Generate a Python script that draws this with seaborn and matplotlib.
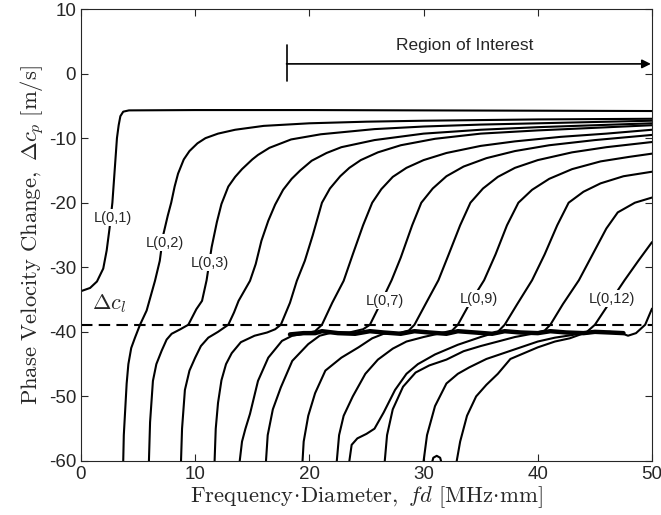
import matplotlib
matplotlib.use("Agg")
import matplotlib.pyplot as plt
import seaborn as sns
import pandas as pd

# values (x: f*d in MHz*mm, y: delta c_p in m/s)
l01_x = [0, 0.8, 1.4, 1.95, 2.25, 2.5, 2.75, 2.95, 3.15, 3.3, 3.45, 3.7, 4.2, 10, 20, 30, 40, 50]
l01_y = [-33.7, -33.2, -32.2, -30.2, -27.4, -24, -20, -15, -10, -8, -6.6, -5.9, -5.7, -5.65, -5.65, -5.7, -5.75, -5.8]

l02_x = [3.7, 3.75, 3.85, 4.0, 4.15, 4.4, 4.73, 5.17, 5.75, 6.48, 6.9, 7.2, 7.6, 7.9, 8.2, 8.5, 9.0, 9.5, 10.2, 10.9, 12.0, 13.5, 16, 20, 25, 30, 40, 50]
l02_y = [-60, -56, -52.8, -48, -45, -42.5, -40.9, -38.9, -36.7, -32.1, -29, -25, -22, -20, -17.5, -15.5, -13.3, -12, -10.8, -10, -9.3, -8.7, -8.1, -7.7, -7.45, -7.3, -7.1, -7.0]

l03_x = [5.95, 6.05, 6.3, 6.6, 7.07, 7.5, 7.94, 8.7, 9.4, 10.1, 10.6, 11.0, 11.44, 11.9, 12.3, 12.9, 13.5, 14.1, 15.0, 15.5, 16.5, 18.4, 21, 25.7, 30, 35, 40, 50]
l03_y = [-60, -54, -47.6, -45, -42.9, -41.2, -40.3, -39.6, -38.9, -36.5, -35.2, -32, -26.9, -23, -20.2, -17.5, -16, -14.8, -13.3, -12.6, -11.5, -10.2, -9.4, -8.6, -8.2, -7.9, -7.7, -7.3]

l04_x = [8.76, 8.85, 9.1, 9.5, 10.0, 10.5, 11.15, 12.0, 12.9, 13.4, 13.8, 14.8, 15.3, 15.8, 16.4, 17.0, 17.7, 18.45, 19.2, 20.2, 21.5, 22.8, 25.7, 30, 35, 40, 50]
l04_y = [-60, -55, -49, -46, -44, -42.2, -40.9, -40.0, -38.9, -37, -35.2, -32.1, -29.5, -25.9, -22.8, -20.3, -18.0, -16.3, -15.0, -13.5, -12.3, -11.4, -10.3, -9.3, -8.7, -8.3, -7.7]

l05_x = [11.7, 11.8, 12.0, 12.3, 12.7, 13.2, 14.0, 15.2, 16.3, 17.0, 17.5, 18.3, 18.9, 19.6, 20.3, 21.1, 21.8, 22.7, 23.5, 24.5, 26, 28, 31, 35, 40, 45, 50]
l05_y = [-60, -55, -51, -47.5, -45, -43.3, -41.6, -40.6, -40.1, -39.6, -38.9, -35.5, -32.1, -29, -25, -20, -17.8, -15.9, -14.6, -13.4, -12.2, -11.1, -10.1, -9.3, -8.8, -8.4, -8.0]

l06_x = [13.9, 14.1, 14.4, 14.8, 15.5, 16.4, 17.6, 18.5, 19.5, 20.5, 21.1, 22.0, 23.0, 23.8, 24.7, 25.5, 26.3, 27.3, 28.5, 30, 32, 35, 38, 42, 46, 50]
l06_y = [-60, -57, -55, -52.7, -47.6, -44, -41.4, -40.6, -40.3, -39.9, -38.9, -35.5, -32.1, -28, -23.5, -20, -17.9, -16.0, -14.6, -13.4, -12.3, -11.2, -10.5, -9.8, -9.3, -8.7]

l07_x = [16.2, 16.35, 16.8, 17.5, 18.5, 19.9, 20.9, 22.0, 23.5, 24.7, 25.3, 26.2, 27.2, 28.0, 29.0, 29.8, 30.8, 32, 33.5, 35.5, 38, 41, 45, 50]
l07_y = [-60, -56, -52, -48.6, -44.5, -41.9, -40.6, -40.1, -40.1, -39.6, -38.9, -35.7, -32, -28.5, -23.5, -20, -17.8, -15.9, -14.4, -13.1, -12.0, -11.1, -10.3, -9.5]

l08_x = [19.4, 19.5, 19.9, 20.5, 21.4, 22.8, 24.3, 25.5, 26.5, 27.8, 28.7, 29.2, 30.2, 31.3, 32.2, 33.2, 34.1, 35.2, 36.5, 38, 40, 43, 46, 50]
l08_y = [-60, -57, -53, -49.5, -46, -44, -42.4, -41, -40.3, -40.2, -39.8, -38.9, -35.6, -32, -28, -23.5, -20, -17.8, -16.0, -14.6, -13.4, -12.2, -11.4, -10.6]

l09_x = [22.4, 22.6, 23.0, 23.8, 24.9, 26.0, 27.3, 28.5, 30, 31.5, 32.5, 33.0, 34.0, 35.3, 36.3, 37.3, 38.3, 39.5, 41, 43, 45.5, 48, 50]
l09_y = [-60, -56, -53, -50, -46.5, -44.3, -42.6, -41.5, -40.8, -40.2, -39.8, -38.9, -35.7, -32, -28, -23.5, -20, -18.0, -16.3, -14.8, -13.6, -12.9, -12.4]

l10_x = [23.5, 23.7, 24.2, 25.0, 25.7, 26.5, 27.5, 28.5, 29.5, 31, 33, 35, 36.5, 37.1, 38.2, 39.5, 40.6, 41.7, 42.7, 44, 45.5, 47.5, 50]
l10_y = [-60, -57.5, -56.5, -55.8, -55, -52.5, -49, -46.5, -45, -43.5, -42, -40.8, -40.0, -38.9, -35.7, -32, -28, -23.5, -20, -18.3, -17.0, -15.9, -15.2]

l11_x = [26.6, 26.8, 27.3, 28.2, 29.3, 30.5, 32, 33.5, 35, 36.5, 38, 39.5, 40.6, 41.1, 42.2, 43.6, 44.8, 46, 47, 48.5, 50]
l11_y = [-60, -56, -52, -48.5, -46.3, -45.2, -44.3, -43.0, -42.2, -41.5, -40.8, -40.3, -39.8, -38.9, -35.7, -32, -28, -24, -21.5, -20, -19.2]

l12_x = [30.0, 30.3, 31.0, 32.0, 33.0, 34.0, 35.5, 37, 38.5, 40, 41.5, 43, 44.3, 45.0, 46.2, 47.6, 48.8, 50]
l12_y = [-60, -56, -51.5, -48, -46.5, -45.5, -44.2, -43.3, -42.4, -41.5, -40.9, -40.5, -40.0, -38.9, -35.7, -32, -29, -26.1]

l13_x = [32.9, 33.2, 33.8, 34.6, 35.5, 36.5, 37.6, 38.8, 40, 41.5, 42.8, 43.9, 45, 46.3, 47.3, 47.9, 48.6, 49.4, 50]
l13_y = [-60, -57, -53, -50, -48.2, -46.5, -44.2, -43.3, -42.4, -41.5, -41.0, -40.3, -40.1, -40.0, -40.2, -40.6, -40.2, -38.9, -36.4]

loop_x = [30.7, 30.85, 31.15, 31.45, 31.6]
loop_y = [-60.5, -59.5, -59.2, -59.5, -60.5]

# thick overlapping stretch along the longitudinal-velocity line
plateau_x = [18.3, 19.5, 20.5, 21.1, 22.5, 24, 25.3, 26.5, 28, 29.2, 30.5, 32, 33.0, 34.5, 36, 37.1, 38.5, 40, 41.1, 42.5, 44, 45.0, 46.3, 47.5]
plateau_y = [-40.4, -40.2, -40.2, -39.9, -40.2, -40.3, -39.9, -40.1, -40.3, -39.9, -40.1, -40.3, -39.9, -40.1, -40.3, -39.9, -40.1, -40.2, -39.9, -40.1, -40.2, -40.0, -40.1, -40.2]

delta_cl = -38.9
roi_start, roi_end = 18, 50

mode_labels = ["L(0,1)", "L(0,2)", "L(0,3)", "L(0,7)", "L(0,9)", "L(0,12)"]
label_x = [2.8, 7.35, 11.3, 26.6, 34.8, 46.5]
label_y = [-22.3, -26.2, -29.3, -35.2, -34.9, -34.9]

curves = {
    "L01": (l01_x, l01_y), "L02": (l02_x, l02_y), "L03": (l03_x, l03_y),
    "L04": (l04_x, l04_y), "L05": (l05_x, l05_y), "L06": (l06_x, l06_y),
    "L07": (l07_x, l07_y), "L08": (l08_x, l08_y), "L09": (l09_x, l09_y),
    "L010": (l10_x, l10_y), "L011": (l11_x, l11_y), "L012": (l12_x, l12_y),
    "L013": (l13_x, l13_y), "loop": (loop_x, loop_y),
}
rows = []
for name, (xs, ys) in curves.items():
    for i, (a, b) in enumerate(zip(xs, ys)):
        rows.append({"mode": name, "i": i, "fd": a, "dc": b})
df = pd.DataFrame(rows)

sns.set_style("ticks")
plt.rcParams["font.family"] = ["Liberation Sans", "DejaVu Sans"]
plt.rcParams["mathtext.fontset"] = "cm"
plt.rcParams["axes.unicode_minus"] = False

fig = plt.figure(figsize=(6.61, 5.15), dpi=100)
ax = fig.add_axes([0.1225, 0.1049, 0.8639, 0.8776])

sns.lineplot(data=df, x="fd", y="dc", units="mode", estimator=None, sort=False,
             color="black", lw=1.5, ax=ax, legend=False)
ax.plot(plateau_x, plateau_y, color="black", lw=3.2, solid_capstyle="round")

ax.axhline(delta_cl, color="black", lw=1.5, ls=(0, (5.5, 3)))
ax.text(2.5, -35.6, r"$\Delta c_l$", fontsize=16, ha="center", va="center")

for t, lx, ly in zip(mode_labels, label_x, label_y):
    ax.text(lx, ly, t, fontsize=10.5, ha="center", va="center",
            bbox=dict(facecolor="white", edgecolor="none", pad=1.0))

# region of interest arrow
ax.plot([roi_start, roi_start], [4.5, -1.2], color="black", lw=1.2)
ax.annotate("", xy=(roi_end - 0.1, 1.5), xytext=(roi_start, 1.5),
            arrowprops=dict(arrowstyle="-|>", color="black", lw=1.2, mutation_scale=13,
                            shrinkA=0, shrinkB=0))
ax.text(33.6, 4.4, "Region of Interest", fontsize=12.5, ha="center", va="center")

ax.set_xlim(0, 50)
ax.set_ylim(-60, 10)
ax.set_xticks(range(0, 51, 10))
ax.set_yticks(range(-60, 11, 10))
ax.tick_params(direction="in", top=True, right=True, labelsize=13.5, length=5, width=0.8, color="#262626")
for s in ax.spines.values():
    s.set_visible(True)
    s.set_linewidth(0.8)
    s.set_color("#262626")

ax.set_xlabel(r"$\mathrm{Frequency}\!\cdot\!\mathrm{Diameter,}\ fd\ [\mathrm{MHz}\!\cdot\!\mathrm{mm}]$", fontsize=16.3, labelpad=1)
ax.set_ylabel(r"$\mathrm{Phase\ Velocity\ Change,}\ \Delta c_p\ [\mathrm{m/s}]$", fontsize=16.3, labelpad=1)

fig.savefig("out.png", dpi=100)
